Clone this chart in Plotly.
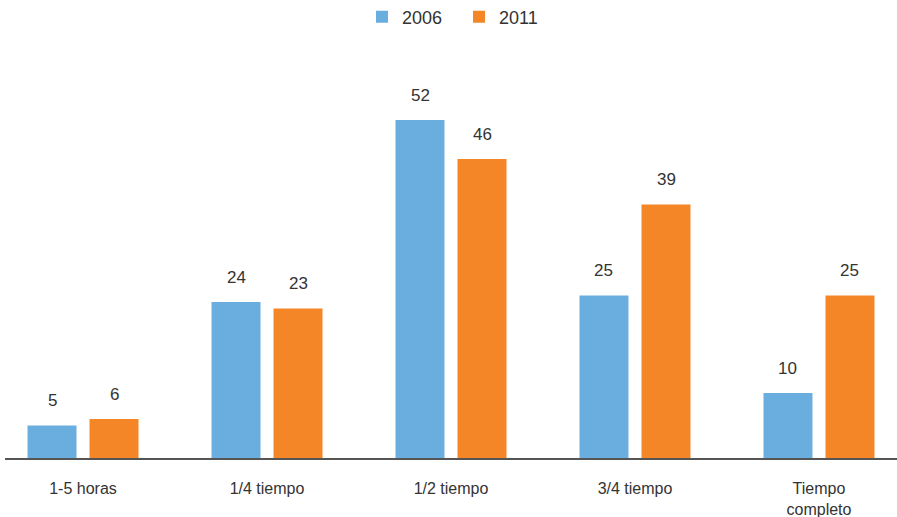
import plotly.graph_objects as go

categories = ["1-5 horas", "1/4 tiempo", "1/2 tiempo", "3/4 tiempo", "Tiempo<br>completo"]
series_names = ["2006", "2011"]
values_2006 = [5, 24, 52, 25, 10]
values_2011 = [6, 23, 46, 39, 25]

colors = ["#6AAEDF", "#F58627"]
font_family = "Liberation Sans, Arial, sans-serif"
text_color = "#333333"
bargap = 0.326

fig = go.Figure()
for name, vals, col in zip(series_names, [values_2006, values_2011], colors):
    fig.add_trace(go.Bar(x=categories, y=vals, name=name, marker_color=col,
                         marker_line_width=0, hoverinfo="x+y"))

offset = (1 - bargap) / 4
for k, vals in enumerate([values_2006, values_2011]):
    sign = -1 if k == 0 else 1
    for i, v in enumerate(vals):
        fig.add_annotation(x=i + sign * offset, y=v, text=str(v), showarrow=False,
                           yanchor="middle", yshift=25,
                           font=dict(size=17, color=text_color, family=font_family))

fig.update_layout(
    width=897, height=517,
    margin=dict(l=5, r=0, t=60, b=59, autoexpand=False),
    paper_bgcolor="white", plot_bgcolor="white",
    barmode="group", bargap=bargap, bargroupgap=0.21,
    font=dict(family=font_family, size=16, color=text_color),
    legend=dict(orientation="h", x=0.5 + 8 / 892, xanchor="center", y=1 + 43 / 398,
                yanchor="middle", font=dict(size=18, color=text_color), entrywidth=52,
                traceorder="normal"),
    showlegend=True,
)
fig.update_xaxes(type="category", range=[-0.424, 4.424], showline=True, linecolor="#555555",
                 linewidth=1.5, showgrid=False, zeroline=False, ticks="", automargin=False,
                 ticklabelstandoff=15, tickfont=dict(size=16, color=text_color))
fig.update_yaxes(range=[0, 398 / 6.5], visible=False, showgrid=False, zeroline=False,
                 automargin=False)

fig.write_html("out.html", config={"displayModeBar": False},
               post_script="document.body.style.margin='0';document.body.style.overflow='hidden';")
